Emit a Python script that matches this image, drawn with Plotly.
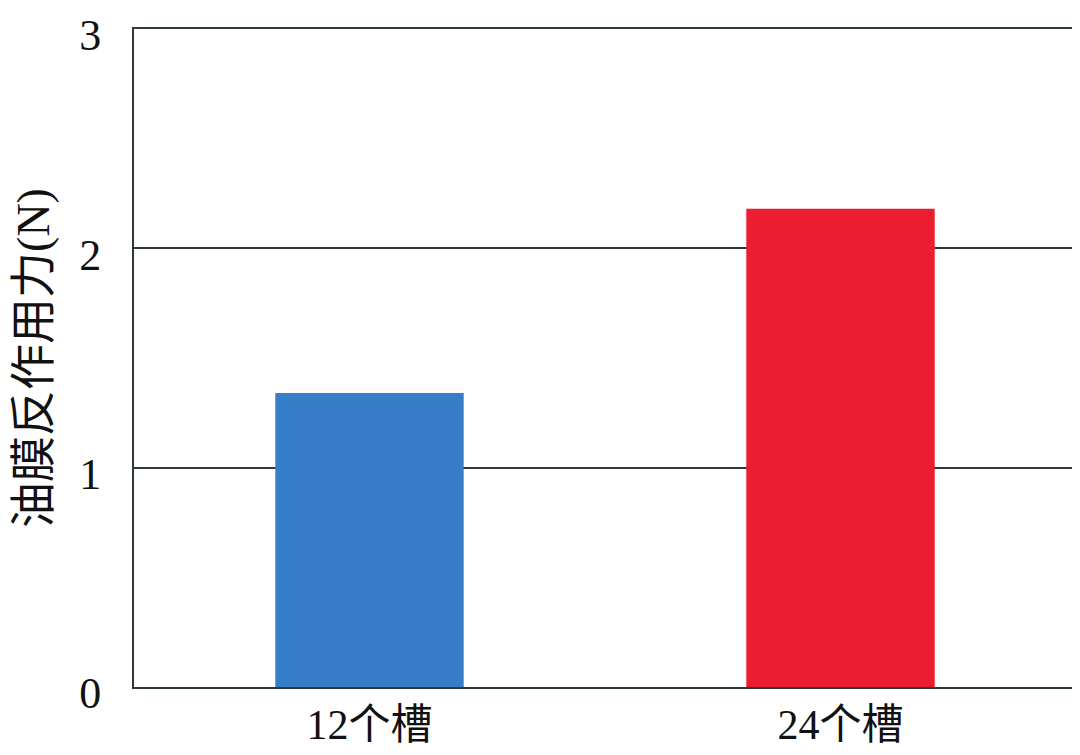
import plotly.graph_objects as go

# 数据：槽数与油膜反作用力
groove_labels = ["12个槽", "24个槽"]
reaction_force = [1.34, 2.18]
bar_colors = ["#377ec8", "#ec1d30"]

y_ticks = [0, 1, 2, 3]

FONT = "Liberation Serif, 'Noto Sans CJK SC', serif"
LINE = "#2c393d"

fig = go.Figure(
    go.Bar(
        x=groove_labels,
        y=reaction_force,
        width=0.4,
        marker=dict(color=bar_colors, line=dict(width=0)),
    )
)

# page body adds ~7px offset, so size the figure to fit
fig.update_layout(
    width=1073,
    height=748,
    margin=dict(l=126, r=5, t=21, b=69),
    paper_bgcolor="white",
    plot_bgcolor="white",
    showlegend=False,
    font=dict(family=FONT, size=44, color="#111111"),
)

fig.update_xaxes(
    automargin=False,
    showline=True,
    linecolor=LINE,
    linewidth=2,
    mirror=True,
    layer="below traces",
    showgrid=False,
    ticks="",
    ticklabelstandoff=0,
    tickfont=dict(size=42),
    range=[-0.5, 1.5],
)

fig.update_yaxes(
    automargin=False,
    range=[0, 3],
    tickvals=y_ticks,
    ticktext=[str(v) for v in y_ticks],
    showline=True,
    linecolor=LINE,
    linewidth=2,
    mirror=True,
    showgrid=True,
    gridcolor=LINE,
    gridwidth=2,
    zeroline=False,
    ticks="",
    ticklabelstandoff=22,
    ticklabelshift=6,
    ticklabeloverflow="allow",
    tickfont=dict(size=44),
    title=dict(text="油膜反作用力(N)", font=dict(size=46), standoff=24),
)

fig.write_html("out.html")
